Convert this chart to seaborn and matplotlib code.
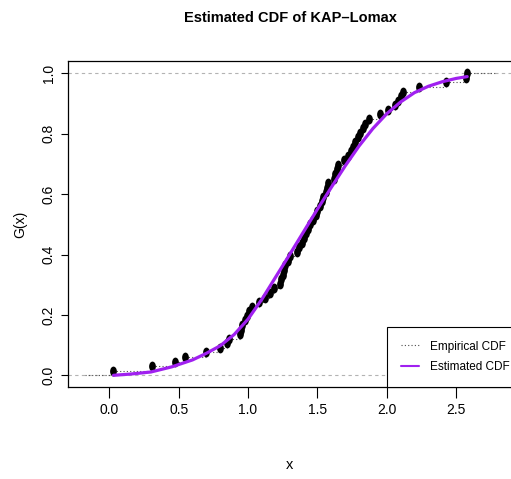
import numpy as np
import pandas as pd
import seaborn as sns
import matplotlib.pyplot as plt
from matplotlib.path import Path
from matplotlib.transforms import Affine2D
from matplotlib.lines import Line2D

# Observed sample (sorted)
sample_x = [0.03, 0.31, 0.476, 0.548, 0.697, 0.80, 0.85, 0.86,
            0.94, 0.95, 0.96, 0.98, 0.99, 1.01, 1.03,
            1.08, 1.12, 1.16, 1.19,
            1.23, 1.24, 1.25, 1.26, 1.27, 1.29, 1.30,
            1.35, 1.37, 1.39, 1.40, 1.42, 1.43, 1.45,
            1.47, 1.49, 1.50, 1.52, 1.53, 1.54, 1.56, 1.57, 1.58,
            1.62, 1.63, 1.64, 1.65,
            1.69, 1.72,
            1.74, 1.76, 1.77, 1.79, 1.81, 1.83, 1.84,
            1.87, 1.95, 2.01,
            2.06, 2.08, 2.10, 2.12,
            2.23, 2.43, 2.57, 2.58]

# Fitted KAP-Lomax CDF evaluated over the sample range
curve_x = [0.03, 0.15, 0.30, 0.45, 0.60, 0.70, 0.80, 0.90, 1.00, 1.10, 1.20, 1.30,
           1.40, 1.50, 1.60, 1.70, 1.80, 1.90, 2.00, 2.10, 2.20, 2.30, 2.40, 2.50, 2.58]
curve_g = [0.000, 0.004, 0.011, 0.028, 0.051, 0.073, 0.098, 0.135, 0.186, 0.252, 0.326, 0.400,
           0.475, 0.550, 0.622, 0.693, 0.759, 0.817, 0.866, 0.905, 0.936, 0.957, 0.972, 0.983, 0.989]

x_ticks = [0.0, 0.5, 1.0, 1.5, 2.0, 2.5]
y_ticks = [0.0, 0.2, 0.4, 0.6, 0.8, 1.0]

sns.set_theme(style="white")
plt.rcParams['font.family'] = ['Liberation Sans', 'DejaVu Sans']

W, H = 511, 479
fig = plt.figure(figsize=(W / 100, H / 100), dpi=100)
ax = fig.add_axes([68 / W, 1 - 387 / H, (512 - 68) / W, (387 - 61) / H])

n = len(sample_x)
ecdf = pd.DataFrame({"x": sample_x, "G": np.arange(1, n + 1) / n})
fit = pd.DataFrame({"x": curve_x, "G": curve_g})

xlim = (-0.298, 2.903)
ylim = (-0.0387, 1.0407)

# Reference lines at 0 and 1
for yy in (0, 1):
    ax.axhline(yy, color="#B3B3B3", lw=0.8, ls=(0, (3, 3)), zorder=1)

# Horizontal steps of the empirical CDF
step_lo = np.r_[-0.174, ecdf["x"].values]
step_hi = np.r_[ecdf["x"].values, 2.784]
step_y = np.r_[0.0, ecdf["G"].values]
ax.hlines(step_y, step_lo, step_hi, colors="0.3", linestyles=(0, (1, 2)), lw=0.8, zorder=2)

# Points of the empirical CDF
dot = Path.unit_circle().transformed(Affine2D().scale(1.0, 1.45))
sns.scatterplot(data=ecdf, x="x", y="G", marker=dot, s=50, color="black",
                edgecolor="black", linewidth=0, ax=ax, zorder=3, legend=False)

# Fitted CDF
sns.lineplot(data=fit, x="x", y="G", color="#A020F0", lw=2.3, ax=ax, zorder=4,
             estimator=None, sort=True)

ax.set_xlim(*xlim)
ax.set_ylim(*ylim)
ax.set_xticks(x_ticks)
ax.set_xticklabels([f"{v:.1f}" for v in x_ticks], fontsize=10)
ax.set_yticks(y_ticks)
ax.set_yticklabels([f"{v:.1f}" for v in y_ticks], rotation=90, va="center", fontsize=10)
ax.tick_params(axis="x", bottom=True, length=8, width=0.8, color="black", pad=3.5, labelcolor="black")
ax.tick_params(axis="y", left=True, length=5, width=0.8, color="black", pad=4, labelcolor="black")
for sp in ax.spines.values():
    sp.set_color("black")
    sp.set_linewidth(0.9)

ax.set_xlabel("x", fontsize=10.5, color="black")
ax.xaxis.set_label_coords(0.5, (387 - 465) / 326)
ax.xaxis.label.set_va("center")
ax.set_ylabel("G(x)", fontsize=10, color="black")
ax.yaxis.set_label_coords((20 - 68) / 444, 0.5)
ax.yaxis.label.set_va("center")

fig.text(290 / W, 1 - 18 / H, "Estimated CDF of KAP\u2013Lomax", ha="center", va="center",
         fontweight="bold", fontsize=10.5, color="black")

handles = [Line2D([], [], color="0.3", ls=(0, (1, 2)), lw=0.8),
           Line2D([], [], color="#A020F0", lw=1.5)]
leg = ax.legend(handles, ["Empirical CDF", "Estimated CDF"], loc="lower left",
                bbox_to_anchor=((387 - 68) / 444, 0), borderaxespad=0,
                prop={"size": 8.5}, frameon=True, fancybox=False,
                framealpha=1, edgecolor="black", borderpad=1.15, labelspacing=0.75,
                handlelength=1.6, handletextpad=0.9)
leg.get_frame().set_linewidth(0.8)
for t in leg.get_texts():
    t.set_color("black")

fig.savefig("out.png", dpi=100)
